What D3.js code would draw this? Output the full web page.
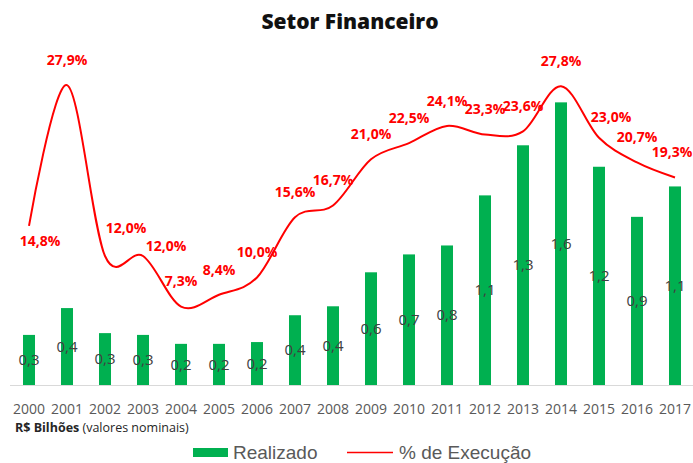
<!DOCTYPE html>
<html>
<head>
<meta charset="utf-8">
<script src="https://cdn.jsdelivr.net/npm/d3@7"></script>
<style>
  html, body { margin: 0; padding: 0; background: #fff; }
  svg { display: block; }
</style>
</head>
<body>
<svg id="chart" width="693" height="463"></svg>
<script>
// ---- data ----
const years = ["2000","2001","2002","2003","2004","2005","2006","2007","2008","2009","2010","2011","2012","2013","2014","2015","2016","2017"];
const realizado = [0.28,0.43,0.29,0.28,0.23,0.23,0.24,0.39,0.44,0.63,0.73,0.78,1.06,1.34,1.58,1.22,0.94,1.11];
const execucao = [14.8,27.9,12.0,12.0,7.3,8.4,10.0,15.6,16.7,21.0,22.5,24.1,23.3,23.6,27.8,23.0,20.7,19.3];
const title = "Setor Financeiro";
const legendLabels = ["Realizado", "% de Execução"];

// ---- layout ----
const svg = d3.select("#chart");
const baseY = 385, topY = 63;
const x = d3.scaleBand().domain(years).range([10, 694]).paddingInner(0.684).paddingOuter(0.342);
const yBar = d3.scaleLinear().domain([0, 1.8]).range([baseY, topY]);
const yPct = d3.scaleLinear().domain([0, 30]).range([baseY, topY - 0.5]);
const cx = d => x(d) + x.bandwidth() / 2;
const fmt = v => v.toFixed(1).replace(".", ",");

// manual label offsets for % labels (dx, dy) relative to point
const pctOffsets = { "2000": [11, 15], "2002": [21, -28], "2003": [23, -10], "2015": [12, -21], "2017": [-3, -25] };

// title
svg.append("text").attr("x", 350).attr("y", 29).attr("text-anchor", "middle")
  .attr("font-family", "Open Sans, sans-serif").attr("font-weight", 800).attr("font-size", 21)
  .attr("fill", "#111").text(title);

// axis line
svg.append("line").attr("x1", 10).attr("x2", 693).attr("y1", baseY + 0.5).attr("y2", baseY + 0.5)
  .attr("stroke", "#d9d9d9").attr("stroke-width", 1);

// bars
svg.append("g").selectAll("rect").data(years).join("rect")
  .attr("x", d => x(d)).attr("width", x.bandwidth())
  .attr("y", (d, i) => yBar(realizado[i])).attr("height", (d, i) => baseY - yBar(realizado[i]))
  .attr("fill", "#00B050");

// bar labels
svg.append("g").selectAll("text").data(years).join("text")
  .attr("x", d => cx(d)).attr("y", (d, i) => (yBar(realizado[i]) + baseY) / 2)
  .attr("dy", "0.35em").attr("text-anchor", "middle")
  .attr("font-family", "Open Sans, sans-serif").attr("font-size", 15).attr("fill", "#404040")
  .text((d, i) => fmt(realizado[i]));

// line
const line = d3.line().x(d => cx(d.year)).y(d => yPct(d.v)).curve(d3.curveCardinal.tension(0));
const pts = years.map((y, i) => ({ year: y, v: execucao[i] }));
svg.append("path").datum(pts).attr("d", line).attr("fill", "none")
  .attr("stroke", "#FF0000").attr("stroke-width", 2);

// % labels
svg.append("g").selectAll("text").data(pts).join("text")
  .attr("x", d => cx(d.year) + (pctOffsets[d.year] ? pctOffsets[d.year][0] : 0))
  .attr("y", d => yPct(d.v) + (pctOffsets[d.year] ? pctOffsets[d.year][1] : -25))
  .attr("dy", "0.35em").attr("text-anchor", "middle")
  .attr("font-family", "Open Sans, sans-serif").attr("font-weight", 700).attr("font-size", 14)
  .attr("fill", "#FF0000")
  .text(d => fmt(d.v) + "%");

// x axis labels
const xAxis = d3.axisBottom(x).tickSize(0).tickPadding(0);
const gx = svg.append("g").attr("transform", `translate(0,${baseY + 18})`).call(xAxis);
gx.select(".domain").remove();
gx.selectAll("text").attr("font-family", "Open Sans, sans-serif").attr("font-size", 14)
  .attr("fill", "#595959").attr("dy", "0.35em").attr("y", 6);

// units note
const note = svg.append("text").attr("x", 15).attr("y", 432)
  .attr("font-family", "Open Sans, sans-serif").attr("font-size", 12.5).attr("fill", "#262626");
note.append("tspan").attr("font-weight", 700).text("R$ Bilhões ");
note.append("tspan").text("(valores nominais)");

// legend
const lg = svg.append("g");
lg.append("rect").attr("x", 193).attr("y", 448).attr("width", 35).attr("height", 9).attr("fill", "#00B050");
lg.append("text").attr("x", 233).attr("y", 452).attr("dy", "0.35em")
  .attr("font-family", "Liberation Sans, Arial, sans-serif").attr("font-size", 19).attr("fill", "#595959").text(legendLabels[0]);
lg.append("line").attr("x1", 347).attr("x2", 393).attr("y1", 452.5).attr("y2", 452.5)
  .attr("stroke", "#FF0000").attr("stroke-width", 1.5);
lg.append("text").attr("x", 399).attr("y", 452).attr("dy", "0.35em")
  .attr("font-family", "Liberation Sans, Arial, sans-serif").attr("font-size", 19).attr("fill", "#595959").text(legendLabels[1]);
</script>
</body>
</html>
